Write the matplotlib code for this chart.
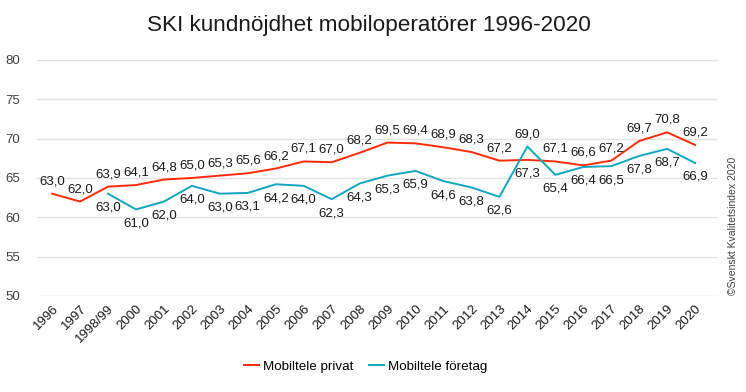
import matplotlib.pyplot as plt
import numpy as np

years = ["1996", "1997", "1998/99", "2000", "2001", "2002", "2003", "2004",
         "2005", "2006", "2007", "2008", "2009", "2010", "2011", "2012",
         "2013", "2014", "2015", "2016", "2017", "2018", "2019", "2020"]
privat = [63.0, 62.0, 63.9, 64.1, 64.8, 65.0, 65.3, 65.6, 66.2, 67.1, 67.0, 68.2,
          69.5, 69.4, 68.9, 68.3, 67.2, 67.3, 67.1, 66.6, 67.2, 69.7, 70.8, 69.2]
foretag = [np.nan, np.nan, 63.0, 61.0, 62.0, 64.0, 63.0, 63.1, 64.2, 64.0, 62.3, 64.3,
           65.3, 65.9, 64.6, 63.8, 62.6, 69.0, 65.4, 66.4, 66.5, 67.8, 68.7, 66.9]

RED = "#FF2B0A"
TEAL = "#13A6C2"
TXT = "#1a1a1a"
plt.rcParams["font.family"] = ["Liberation Sans", "DejaVu Sans"]

fig = plt.figure(figsize=(7.46, 3.92), dpi=100)
ax = fig.add_axes([0.0496, 0.245, 0.9129, 0.602])

x = np.arange(len(years))
ax.plot(x, privat, color=RED, lw=1.4, label="Mobiltele privat", zorder=3)
ax.plot(x, foretag, color=TEAL, lw=1.4, label="Mobiltele företag", zorder=3)


def fmt(v):
    return f"{v:.1f}".replace(".", ",")


for i, v in enumerate(privat):
    dy = -9.5 if years[i] == "2014" else 9
    ax.annotate(fmt(v), (i, v), xytext=(0, dy), textcoords="offset points",
                ha="center", va="center", fontsize=9.5, color=TXT)
for i, v in enumerate(foretag):
    if np.isnan(v):
        continue
    dy = 9 if years[i] == "2014" else -10
    ax.annotate(fmt(v), (i, v), xytext=(0, dy), textcoords="offset points",
                ha="center", va="center", fontsize=9.5, color=TXT)

ax.set_ylim(50, 80)
ax.set_yticks(range(50, 81, 5))
ax.set_xlim(-0.54, 23.82)
ax.set_xticks(x)
ax.set_xticklabels(years, rotation=45, ha="right", rotation_mode="anchor",
                   fontsize=9.5, color=TXT)
ax.tick_params(axis="y", labelsize=9.5, colors="#404040", length=0, pad=12)
ax.tick_params(axis="x", length=0, pad=5)
ax.grid(axis="y", color="#EAE2E2", lw=1)
ax.set_axisbelow(True)
for s in ax.spines.values():
    s.set_visible(False)

fig.text(0.495, 0.936, "SKI kundnöjdhet mobiloperatörer 1996-2020",
         ha="center", va="center", fontsize=16.2, color=TXT)
fig.text(0.983, 0.423, "©Svenskt Kvalitetsindex 2020", rotation=90,
         ha="center", va="center", fontsize=7.5, color="#404040")
fig.legend(loc="center", bbox_to_anchor=(0.49, 0.064), ncol=2, frameon=False,
           fontsize=9.6, handlelength=1.1, handletextpad=0.3, columnspacing=1.2)

fig.savefig("out.png", dpi=100)
